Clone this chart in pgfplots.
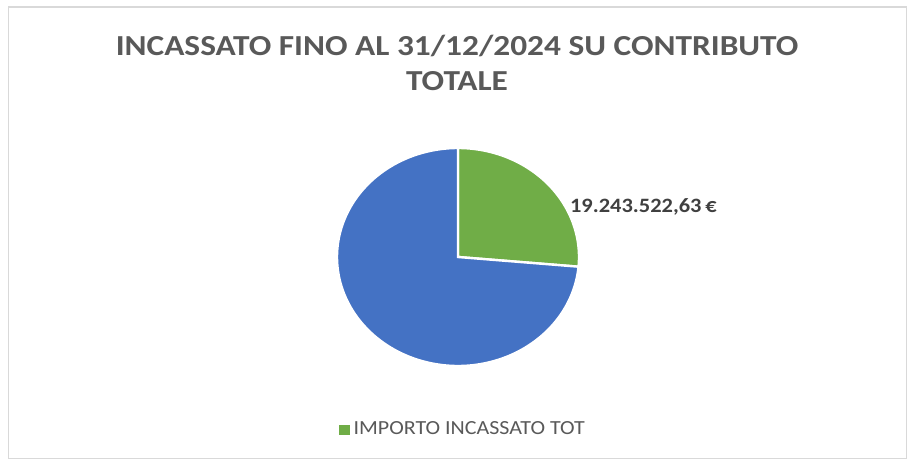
\documentclass[border=0pt]{standalone}
\usepackage{pgfplots}
\pgfplotsset{compat=1.18}
\usepackage{fontspec}
\setmainfont{Carlito}
\definecolor{pieGreen}{HTML}{70AD47}
\definecolor{pieBlue}{HTML}{4472C4}
\definecolor{txtGray}{HTML}{595959}
\definecolor{lblGray}{HTML}{404040}
\definecolor{frameGray}{HTML}{D9D9D9}
% data (euro, millions): collected amount and estimated remainder of total contribution
\pgfmathsetmacro{\incassato}{19.24352263}
\pgfmathsetmacro{\residuo}{53.60}
\pgfmathsetmacro{\angEnd}{90-360*\incassato/(\incassato+\residuo)}
\begin{document}
\begin{tikzpicture}[x=0.5pt,y=0.5pt]
\begin{axis}[
  scale only axis, width=454pt, height=230.5pt,
  xmin=0, xmax=908, ymin=0, ymax=461,
  hide axis, clip=false,
  legend style={draw=none, fill=none, at={(axis cs:464,31)}, anchor=center,
    font=\fontsize{10}{12}\selectfont\color{txtGray}, inner sep=0pt},
  legend cell align=left,
  legend image code/.code={\fill[pieGreen] (0pt,-2pt) rectangle (4pt,2pt);},
]
% frame
\draw[frameGray, line width=0.8pt] (8.5,2.5) rectangle (906.5,454);
% green slice
\addplot[fill=pieGreen, draw=white, line width=1.2pt, domain=90:\angEnd, samples=80, variable=\t]
  ({458+121*cos(\t)},{204+109*sin(\t)}) -- (458,204) -- cycle;
\addlegendentry{\scalebox{1.1}[1]{IMPORTO INCASSATO TOT}}
% blue slice
\addplot[fill=pieBlue, draw=white, line width=1.2pt, domain=\angEnd:-270, samples=200, variable=\t, forget plot]
  ({458+121*cos(\t)},{204+109*sin(\t)}) -- (458,204) -- cycle;
% title
\node[font=\fontsize{14.5}{17.5}\bfseries\selectfont, text=txtGray, align=center] at (457,398)
  {\scalebox{1.15}[1]{INCASSATO FINO AL 31/12/2024 SU CONTRIBUTO}\\\scalebox{1.15}[1]{TOTALE}};
% data label
\node[font=\fontsize{10.2}{12}\bfseries\selectfont, text=lblGray, anchor=west] at (563,254)
  {\scalebox{1.1}[1]{19.243.522,63\,€}};
\end{axis}
\pgfresetboundingbox
\path (current axis.south west) rectangle (current axis.north east);
\end{tikzpicture}
\end{document}
